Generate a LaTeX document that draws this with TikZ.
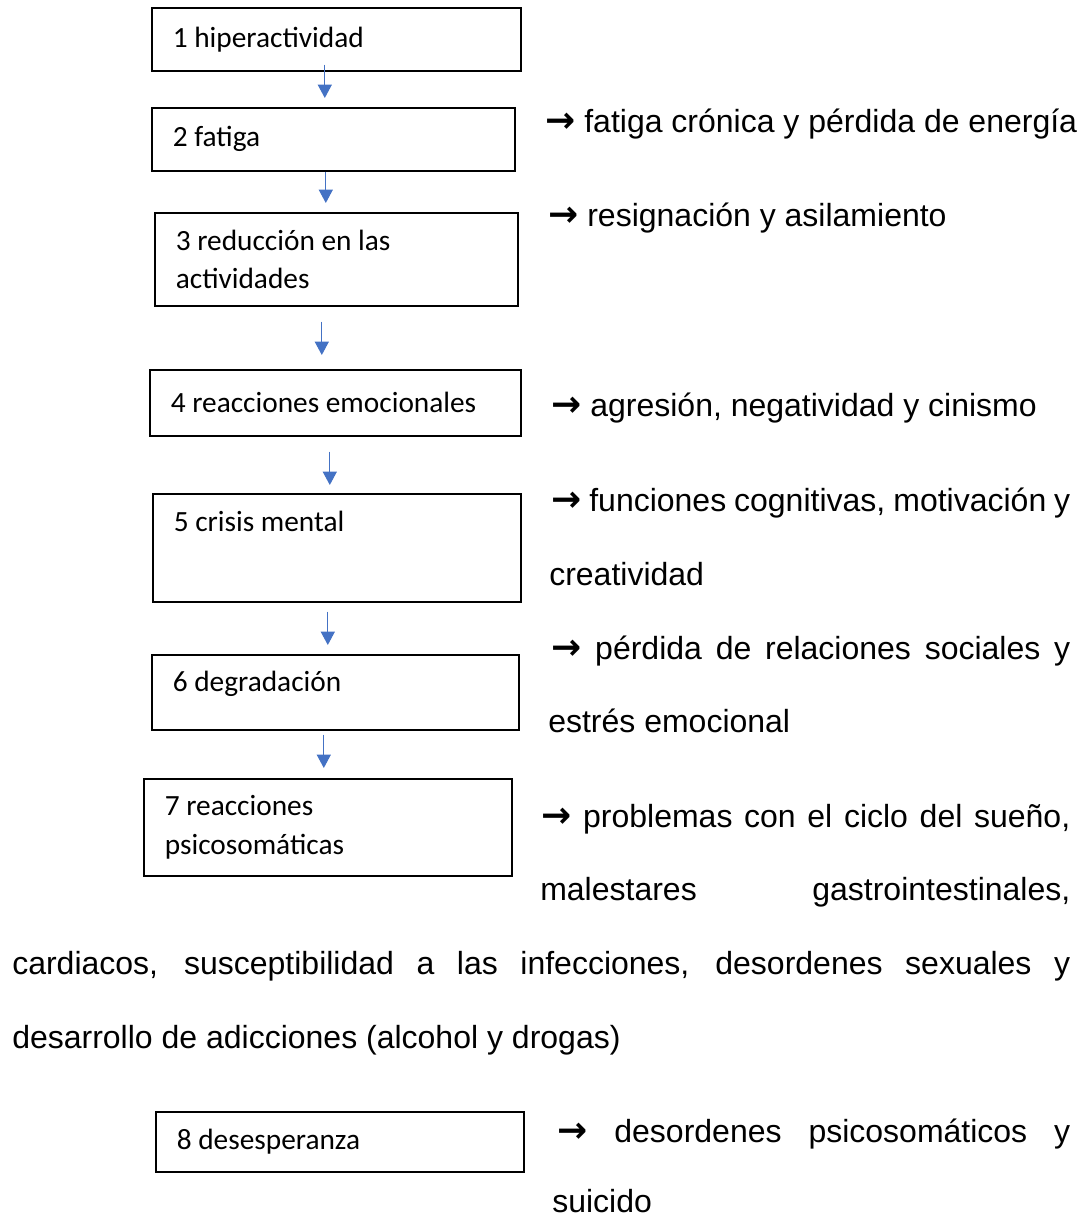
\documentclass[tikz,border=0pt]{standalone}
\usepackage{fontspec}
\setmainfont{Liberation Sans}
\newfontfamily\calibri{Carlito}
\newfontfamily\simbolo{DejaVu Sans}
\newcommand{\flec}{{\simbolo\bfseries\fontsize{27}{29}\selectfont →}}
\usetikzlibrary{arrows.meta,calc}
\definecolor{azul}{HTML}{4472C4}

\begin{document}
\begin{tikzpicture}[x=0.75pt,y=-0.75pt,
  caja/.style={draw,line width=1.2pt,anchor=north west,align=flush left,inner xsep=15.75pt,inner ysep=0pt,font=\calibri\fontsize{22}{29}\selectfont},
  texto/.style={anchor=base west,inner sep=0pt,font=\fontsize{24}{29}\selectfont},
  flecha/.style={draw=azul,line width=0.9pt,-{Triangle[width=10.5pt,length=10pt]}}]
\useasboundingbox (0,0) rectangle (1084,1218);

\node[caja,text width=245.25pt,minimum height=47.25pt] (n1) at (151,7) {1 hiperactividad};
\node[caja,text width=240.75pt,minimum height=47.25pt] (n2) at (151,107) {2 fatiga};
\node[caja,text width=240.75pt,minimum height=69.75pt] (n3) at (154,212) {3 reducción en las\\actividades};
\node[caja,text width=246.75pt,minimum height=49.5pt] (n4) at (149,369) {4 reacciones emocionales};
\node[caja,text width=244.5pt,minimum height=81pt,text depth=39pt] (n5) at (152,493) {5 crisis mental};
\node[caja,text width=243.75pt,minimum height=56.25pt,text depth=16pt] (n6) at (151,654) {6 degradación};
\node[caja,text width=244.5pt,minimum height=72.75pt] (n7) at (143,778) {7 reacciones\\psicosomáticas};
\node[caja,text width=244.5pt,minimum height=45pt] (n8) at (155,1111) {8 desesperanza};

\draw[flecha] ($(n1.south)+(-11.5,-7)$) -- ($(n2.north)+(-8.5,-9)$);
\draw[flecha] ($(n2.south)+(-7.5,0)$) -- ($(n3.north)+(-10.5,-9)$);
\draw[flecha] ($(n3.south)+(-14.5,15)$) -- ($(n4.north)+(-13.5,-14)$);
\draw[flecha] ($(n4.south)+(-5.5,15)$) -- ($(n5.north)+(-7,-8)$);
\draw[flecha] ($(n5.south)+(-9,9)$) -- ($(n6.north)+(-7.5,-9)$);
\draw[flecha] ($(n6.south)+(-11.5,4)$) -- ($(n7.north)+(-4,-10)$);

\node[texto] (t2) at (545,132) {\flec{} fatiga crónica y pérdida de energía};
\node[texto] (t3) at (548,226) {\flec{} resignación y asilamiento};
\node[texto] (t4) at (551,416) {\flec{} agresión, negatividad y cinismo};
\node[texto] (t5a) at (551,511) {\makebox[389.25pt][s]{\flec{} funciones cognitivas, motivación y}};
\node[texto] (t5b) at (549,585) {creatividad};
\node[texto] (t6a) at (551,659) {\makebox[389.25pt][s]{\flec{} pérdida de relaciones sociales y}};
\node[texto] (t6b) at (548,732) {estrés emocional};
\node[texto] (t7a) at (541,827) {\makebox[396.75pt][s]{\flec{} problemas con el ciclo del sueño,}};
\node[texto] (t7b) at (540,900) {\makebox[397.5pt][s]{malestares gastrointestinales,}};
\node[texto] (t7c) at (12,974) {\makebox[793.5pt][s]{cardiacos, susceptibilidad a las infecciones, desordenes sexuales y}};
\node[texto] (t7d) at (12,1048) {desarrollo de adicciones (alcohol y drogas)};
\node[texto] (t8a) at (557,1142) {\makebox[384.75pt][s]{\flec{} desordenes psicosomáticos y}};
\node[texto] (t8b) at (552,1212) {suicido};
\end{tikzpicture}
\end{document}
